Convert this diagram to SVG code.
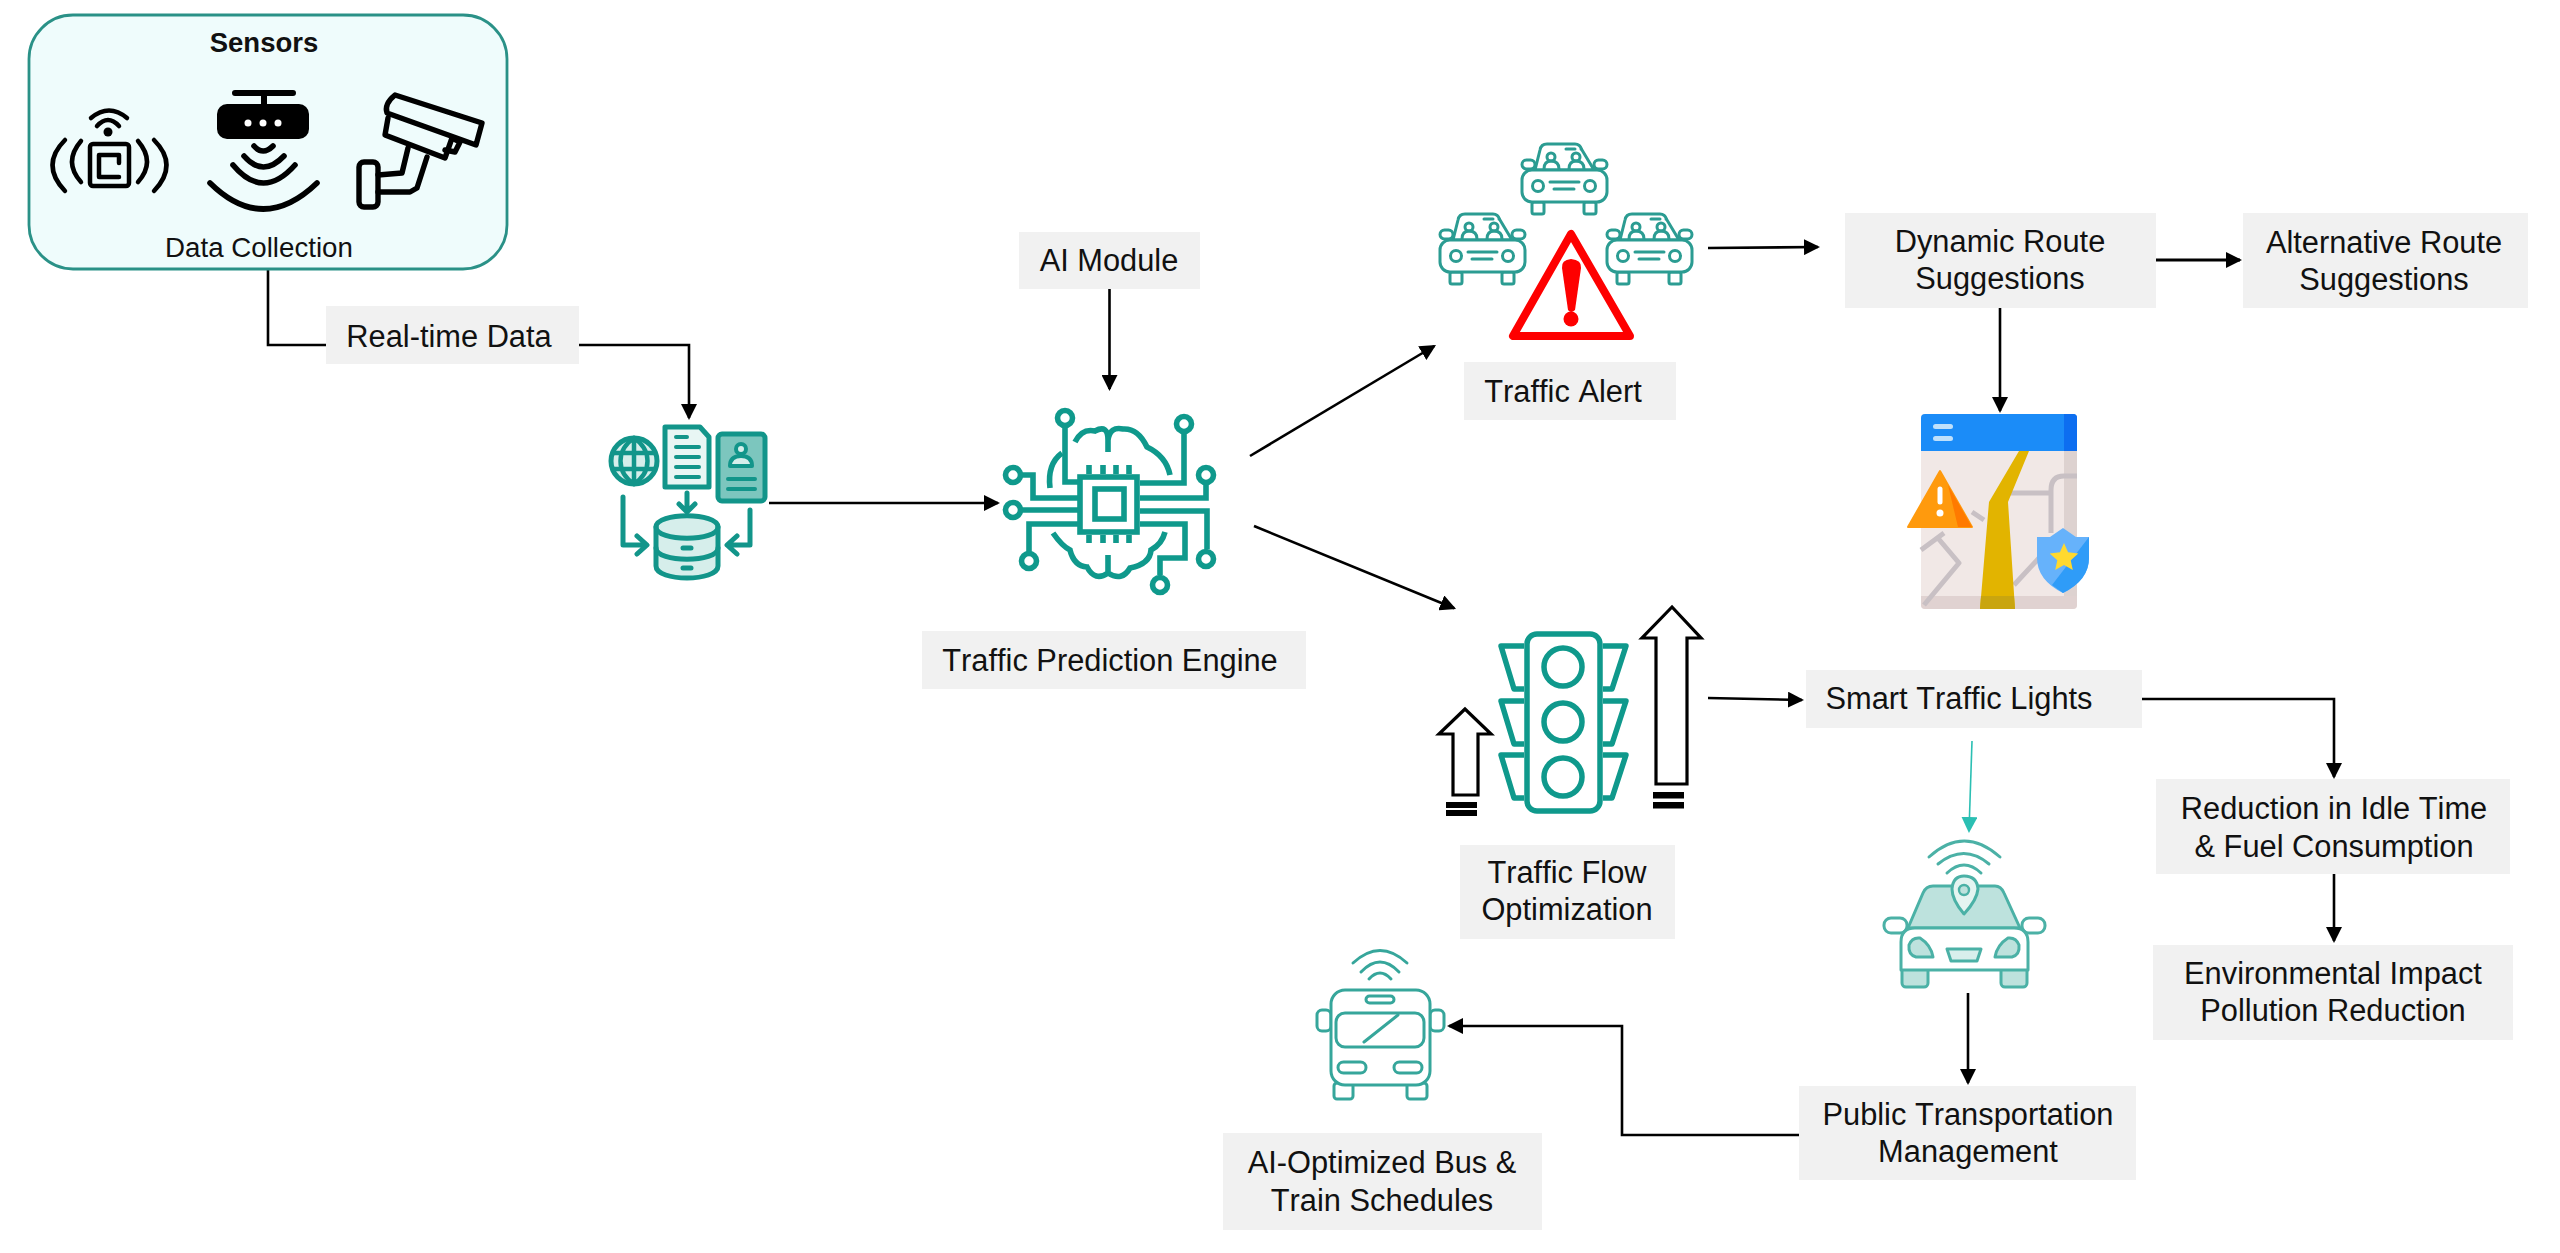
<svg xmlns="http://www.w3.org/2000/svg" xmlns:xlink="http://www.w3.org/1999/xlink" width="2560" height="1253" viewBox="0 0 2560 1253">
<style>
text{font-family:"Liberation Sans",Arial,sans-serif;font-size:30.8px;fill:#111;text-anchor:middle;font-kerning:none}
.lb{fill:#f1f1f1}
.c{fill:none;stroke:#000;stroke-width:2.6}
.en{fill:none;stroke:#0f998c;stroke-width:5.6}
.db{fill:none;stroke:#12958a;stroke-width:5;stroke-linejoin:round;stroke-linecap:round}
.cr{fill:#fff;stroke:#2b9c92;stroke-width:3;stroke-linejoin:round}
.cl{fill:none;stroke:#2b9c92;stroke-width:3;stroke-linecap:round}
.tl{fill:none;stroke:#0f998c;stroke-width:5.5;stroke-linejoin:round}
.ua{fill:#fff;stroke:#000;stroke-width:3.2;stroke-linejoin:miter}
.ca{fill:#fff;stroke:#4bb1a6;stroke-width:3;stroke-linejoin:round}
.cf{fill:#bde2dd;stroke:#4bb1a6;stroke-width:3;stroke-linejoin:round}
.cw{fill:none;stroke:#4bb1a6;stroke-width:3;stroke-linecap:round}
.bs{fill:#fff;stroke:#36a69b;stroke-width:3;stroke-linejoin:round}
.bw{fill:none;stroke:#36a69b;stroke-width:3;stroke-linecap:round}
.sk{fill:none;stroke:#000;stroke-width:4.5;stroke-linecap:round;stroke-linejoin:round}
.rd{fill:none;stroke:#c8c0c4;stroke-width:5;stroke-linejoin:round}
</style>
<defs>
<marker id="ah" markerUnits="userSpaceOnUse" markerWidth="16" markerHeight="16" refX="14" refY="8" orient="auto"><path d="M0,0L16,8L0,16Z" fill="#000"/></marker>
<marker id="aht" markerUnits="userSpaceOnUse" markerWidth="16" markerHeight="16" refX="14" refY="8" orient="auto"><path d="M0,0L16,8L0,16Z" fill="#2bbfb3"/></marker>
<g id="car">
<path class="cr" d="M14,27L19,7Q20,1 26,1L54,1Q59,1 61,7L73,27Z"/>
<rect class="cr" x="1" y="17" width="13" height="9" rx="4.5"/>
<rect class="cr" x="73" y="17" width="13" height="9" rx="4.5"/>
<rect class="cr" x="11" y="59" width="12" height="12" rx="2"/>
<rect class="cr" x="63" y="59" width="12" height="12" rx="2"/>
<rect class="cr" x="1" y="27" width="85" height="32" rx="10"/>
<circle class="cr" cx="17" cy="43" r="5.5"/>
<circle class="cr" cx="69" cy="43" r="5.5"/>
<path class="cl" d="M29,39L58,39M33,46L53,46M45,6L54,6"/>
<circle cx="60" cy="6" r="1.5" fill="#2b9c92"/>
<circle class="cl" cx="30" cy="14" r="4"/>
<circle class="cl" cx="55" cy="14" r="4"/>
<path class="cl" d="M23,26Q23,18 30,18Q38,18 38,26M48,26Q48,18 55,18Q63,18 63,26"/>
</g>
</defs>
<rect width="2560" height="1253" fill="#fff"/>

<g id="connectors">
<path class="c" d="M268,269V345H326"/>
<path class="c" marker-end="url(#ah)" d="M579,345H689V418"/>
<path class="c" marker-end="url(#ah)" d="M769,503H998"/>
<path class="c" marker-end="url(#ah)" d="M1109.5,289V389"/>
<path class="c" marker-end="url(#ah)" d="M1250,456L1434.3,346"/>
<path class="c" marker-end="url(#ah)" d="M1254,526L1454.2,608.2"/>
<path class="c" marker-end="url(#ah)" d="M1708,248L1818,247"/>
<path class="c" style="stroke-width:3.2" marker-end="url(#ah)" d="M2156,260H2240"/>
<path class="c" marker-end="url(#ah)" d="M2000,308V411"/>
<path class="c" marker-end="url(#ah)" d="M1708,698L1802,700"/>
<path class="c" marker-end="url(#ah)" d="M2142,699H2334V777"/>
<path class="c" marker-end="url(#ah)" d="M2334,874V941"/>
<path fill="none" stroke="#2bbfb3" stroke-width="1.6" marker-end="url(#aht)" d="M1972,741L1969,831"/>
<path class="c" marker-end="url(#ah)" d="M1968,993V1083"/>
<path class="c" marker-end="url(#ah)" d="M1799,1135H1622V1026H1449"/>
</g>

<g id="sensors">
<rect x="29" y="15" width="478" height="254" rx="44" fill="#effcfc" stroke="#2a9187" stroke-width="2.8"/>
<text x="264" y="52" font-weight="700" style="font-size:27.5px">Sensors</text>
<text x="259" y="257" style="font-size:27.7px">Data Collection</text>
<g class="sk" id="nfc">
<rect x="90" y="144" width="39" height="42" rx="3"/>
<path d="M119,155H99V177H119M119,155V163"/>
<path d="M91,118Q109,103 127,118M97,126Q108,114 119,126"/>
<path d="M81,141Q63,162 81,182M65,140Q40,165 65,191M138,141Q156,162 138,182M154,140Q179,165 154,191"/>
<circle cx="108" cy="132" r="4.5" fill="#000" stroke="none"/>
</g>
<g id="router">
<path class="sk" d="M235,93H293M264,93V106" style="stroke-width:6"/>
<rect x="217" y="104" width="92" height="35" rx="10" fill="#000"/>
<circle cx="248" cy="123" r="3.5" fill="#fff"/><circle cx="263" cy="123" r="3.5" fill="#fff"/><circle cx="278" cy="123" r="3.5" fill="#fff"/>
<path class="sk" d="M254,146Q263,156 273,146M244,156Q263,178 284,156M233,165Q263,201 295,165M210,183Q263,235 317,183" style="stroke-width:5.6"/>
</g>
<g id="camera" class="sk" style="stroke-width:5.4">
<path d="M395,95L482,123L476,145L387,113Q384,104 395,95Z"/>
<path d="M388,118L385,135L445,158L452,138"/>
<path d="M452,138L460,142L455,152L445,150"/>
<path d="M408,148L402,173L378,175M427,157L417,188L410,192L378,192"/>
<rect x="359" y="162" width="19" height="45" rx="5"/>
</g>
</g>

<g id="real-time-data">
<rect class="lb" x="326" y="306" width="253" height="58"/>
<text x="449" y="347">Real-time Data</text>
</g>

<g id="data-icon">
<circle cx="634" cy="461" r="23" fill="#d6eeeb" stroke="#12958a" stroke-width="5"/>
<path fill="none" stroke="#12958a" stroke-width="4.5" d="M634,438C616,450 616,472 634,484C652,472 652,450 634,438ZM634,438V484M613,453H655M613,469H655"/>
<path d="M665,427H700L709,437V487H665Z" fill="#e8f6f4" stroke="#12958a" stroke-width="5" stroke-linejoin="round"/>
<path class="db" d="M676,437H687M676,447H699M676,457H699M676,467H699M676,477H699" style="stroke-width:4"/>
<rect x="718" y="434" width="47" height="67" rx="4" fill="#7cc6be" stroke="#12958a" stroke-width="5"/>
<circle cx="741" cy="449" r="5" fill="#d6eeeb" stroke="#12958a" stroke-width="4"/>
<path d="M730,466Q730,456 741,456Q752,456 752,466Z" fill="#d6eeeb" stroke="#12958a" stroke-width="4" stroke-linejoin="round"/>
<path class="db" d="M728,479H755M728,489H755" style="stroke-width:4"/>
<path class="db" d="M623,497V545H645M637,536L647,545L637,554M750,510V545H729M737,536L727,545L737,554M687,493V511M679,504L687,512L695,504"/>
<path d="M656,527C656,512 718,512 718,527V566C718,582 656,582 656,566Z" fill="#d6eeeb" stroke="#12958a" stroke-width="5"/>
<path class="db" d="M656,527C656,542 718,542 718,527M656,548C656,563 718,563 718,548M683,548H691M683,568H691"/>
</g>

<g id="ai-module">
<rect class="lb" x="1019" y="232" width="181" height="57"/>
<text x="1109" y="271">AI Module</text>
</g>

<g id="engine">
<rect class="en" x="1080" y="477" width="57" height="55"/>
<rect class="en" x="1095" y="489" width="29" height="30"/>
<path class="en" d="M1089,465V474M1103,465V474M1116,465V474M1129,465V474M1089,535V543M1103,535V543M1116,535V543M1129,535V543"/>
<path class="en" d="M1065,428V482H1078M1020,475H1033V498H1078M1021,510H1078M1029,552V524H1078M1184,434V483H1140M1206,485V498H1140M1140,511H1207V549M1140,524H1185V558H1160V575"/>
<circle class="en" cx="1065" cy="418" r="7.5"/><circle class="en" cx="1013" cy="475" r="7.5"/><circle class="en" cx="1013" cy="510" r="7.5"/><circle class="en" cx="1029" cy="561" r="7.5"/><circle class="en" cx="1184" cy="424" r="7.5"/><circle class="en" cx="1206" cy="475" r="7.5"/><circle class="en" cx="1206" cy="559" r="7.5"/><circle class="en" cx="1160" cy="585" r="7.5"/>
<path class="en" d="M1075,442Q1082,428 1095,431Q1108,424 1108,440V452M1108,440Q1110,426 1123,429Q1138,428 1147,447Q1166,456 1170,475M1062,453Q1047,464 1050,488"/>
<path class="en" d="M1053,533Q1062,546 1070,550Q1074,566 1087,567Q1095,582 1108,573V555M1108,573Q1122,582 1130,568Q1150,564 1151,550Q1162,544 1165,532"/>
</g>

<g id="engine-label">
<rect class="lb" x="922" y="631" width="384" height="58"/>
<text x="1110" y="671">Traffic Prediction Engine</text>
</g>

<g id="traffic-alert-icon">
<use href="#car" x="1521" y="143"/>
<use href="#car" x="1439" y="213"/>
<use href="#car" x="1606" y="213"/>
<path d="M1571,234L1513,336H1630Z" fill="#fff" stroke="#fe0000" stroke-width="8" stroke-linejoin="round"/>
<path d="M1562,268Q1561,260 1571,259Q1582,260 1581,268L1575,310Q1571,314 1568,310Z" fill="#fe0000"/>
<circle cx="1571" cy="319" r="7.5" fill="#fe0000"/>
</g>
<g id="traffic-alert">
<rect class="lb" x="1464" y="362" width="212" height="58"/>
<text x="1563" y="402">Traffic Alert</text>
</g>

<g id="dynamic-route">
<rect class="lb" x="1845" y="213" width="311" height="95"/>
<text x="2000" y="252">Dynamic Route</text>
<text x="2000" y="289">Suggestions</text>
</g>
<g id="alternative-route">
<rect class="lb" x="2243" y="213" width="285" height="95"/>
<text x="2384" y="253">Alternative Route</text>
<text x="2384" y="290">Suggestions</text>
</g>

<g id="map-icon">
<rect x="1921" y="414" width="156" height="195" rx="4" fill="#f1e8e6"/>
<rect x="2064" y="451" width="13" height="145" fill="#ddd2d0"/>
<path d="M1921,596H2077V605Q2077,609 2073,609H1925Q1921,609 1921,605Z" fill="#e0d2d1"/>
<path class="rd" d="M2077,476H2064Q2051,476 2051,490V533M2009,493H2051M1972,512L1984,520M1921,550L1944,533M1937,537L1959,563L1924,605M2014,585L2039,558"/>
<path d="M2019,451H2029L2008,502L2015,609H1980L1989,502Z" fill="#e2b400"/>
<path d="M1981,596H2014L2015,609H1980Z" fill="#c9a50f"/>
<path d="M1921,451V418Q1921,414 1925,414H2073Q2077,414 2077,418V451Z" fill="#1b8cf8"/>
<path d="M2064,414H2073Q2077,414 2077,418V451H2064Z" fill="#0d6ef0"/>
<rect x="1933" y="424" width="20" height="5" rx="2.5" fill="#bfe0fb"/><rect x="1933" y="436" width="20" height="5" rx="2.5" fill="#bfe0fb"/>
<path d="M1940,471L1972,527H1908Z" fill="#ff9a0d" stroke="#ff9a0d" stroke-width="2" stroke-linejoin="round"/>
<path d="M1948,485L1972,527H1958Z" fill="#ff7a00"/>
<path d="M1940,489V502" stroke="#fff" stroke-width="5" stroke-linecap="round"/><circle cx="1940" cy="513" r="3.5" fill="#fff"/>
<path d="M2063,528L2076,537H2089V558Q2089,580 2063,593Q2037,580 2037,558V537H2050Z" fill="#66b2fb"/>
<path d="M2089,537V558Q2089,580 2063,593L2052,585Z" fill="#2f9cf8"/>
<path d="M2064,543L2068.1,552.3L2078.3,553.4L2070.7,560.2L2072.8,570.1L2064,565L2055.2,570.1L2057.3,560.2L2049.7,553.4L2059.9,552.3Z" fill="#ffd92e"/>
</g>

<g id="traffic-light-icon">
<path class="tl" d="M1524,646H1501L1514,689H1524M1524,701H1501L1514,744H1524M1524,755H1501L1514,798H1524M1603,646H1626L1612,689H1603M1603,701H1626L1612,744H1603M1603,755H1626L1612,798H1603"/>
<rect class="tl" x="1527" y="634" width="73" height="177" rx="10"/>
<circle class="tl" cx="1563" cy="667" r="19"/><circle class="tl" cx="1563" cy="722" r="19"/><circle class="tl" cx="1563" cy="777" r="19"/>
<path class="ua" d="M1465,709L1439,734H1453V795H1478V734H1491Z"/>
<rect x="1446" y="802" width="31" height="6"/><rect x="1446" y="810" width="31" height="6"/>
<path class="ua" d="M1672,607L1642,638H1656V784H1687V638H1701Z"/>
<rect x="1653" y="792" width="31" height="6.5"/><rect x="1653" y="802" width="31" height="6.5"/>
</g>
<g id="traffic-flow">
<rect class="lb" x="1460" y="845" width="215" height="94"/>
<text x="1567" y="883">Traffic Flow</text>
<text x="1567" y="920">Optimization</text>
</g>

<g id="smart-lights">
<rect class="lb" x="1806" y="670" width="336" height="58"/>
<text x="1959" y="709">Smart Traffic Lights</text>
</g>
<g id="reduction">
<rect class="lb" x="2156" y="779" width="354" height="95"/>
<text x="2334" y="819">Reduction in Idle Time</text>
<text x="2334" y="857">&amp; Fuel Consumption</text>
</g>
<g id="environmental">
<rect class="lb" x="2153" y="945" width="360" height="95"/>
<text x="2333" y="984">Environmental Impact</text>
<text x="2333" y="1021">Pollution Reduction</text>
</g>

<g id="car-icon">
<path class="cw" d="M1929,857Q1964,825 2000,857M1938,864Q1964,843 1989,864M1947,873Q1964,857 1981,873"/>
<path class="cf" d="M1908,928L1923,893Q1926,886 1933,886H1995Q2001,886 2004,893L2020,928Z"/>
<rect class="ca" x="1884" y="918" width="23" height="15" rx="7"/><rect class="ca" x="2022" y="918" width="23" height="15" rx="7"/>
<rect class="cf" x="1902" y="965" width="26" height="22" rx="4"/><rect class="cf" x="2001" y="965" width="26" height="22" rx="4"/>
<path class="ca" d="M1901,970V942Q1901,928 1915,928H2014Q2028,928 2028,942V970Z"/>
<path class="cf" d="M1909,945Q1912,937 1920,938Q1931,945 1933,957H1916Q1908,955 1909,945Z"/>
<path class="cf" d="M2019,945Q2016,937 2008,938Q1997,945 1995,957H2012Q2020,955 2019,945Z"/>
<path class="cf" d="M1947,949H1981L1977,961H1951Z" style="fill:#d8efec"/>
<path class="ca" style="fill:#e4f4f1" d="M1964,914Q1952,900 1952,889Q1953,876 1964,876Q1977,876 1978,889Q1977,900 1964,914Z"/>
<circle class="ca" style="fill:#bde2dd;stroke-width:2.4" cx="1964" cy="890" r="5"/>
</g>

<g id="public-transport">
<rect class="lb" x="1799" y="1086" width="337" height="94"/>
<text x="1968" y="1125">Public Transportation</text>
<text x="1968" y="1162">Management</text>
</g>

<g id="bus-icon">
<path class="bw" d="M1353,963Q1380,938 1407,963M1361,972Q1380,952 1399,972M1369,979Q1380,967 1391,979"/>
<rect class="bs" x="1317" y="1010" width="14" height="21" rx="5"/><rect class="bs" x="1430" y="1010" width="14" height="21" rx="5"/>
<rect class="bs" x="1334" y="1083" width="19" height="16" rx="3"/><rect class="bs" x="1407" y="1083" width="20" height="16" rx="3"/>
<rect class="bs" x="1331" y="990" width="99" height="95" rx="14"/>
<rect class="bs" x="1336" y="1013" width="88" height="34" rx="9"/>
<path class="bw" d="M1364,1042L1398,1015"/>
<rect class="bs" x="1366" y="996" width="28" height="7" rx="3.5"/>
<rect class="bs" x="1338" y="1062" width="28" height="11" rx="5.5"/><rect class="bs" x="1394" y="1062" width="28" height="11" rx="5.5"/>
</g>
<g id="bus-schedules">
<rect class="lb" x="1223" y="1133" width="319" height="97"/>
<text x="1382" y="1173">AI-Optimized Bus &amp;</text>
<text x="1382" y="1211">Train Schedules</text>
</g>
</svg>
